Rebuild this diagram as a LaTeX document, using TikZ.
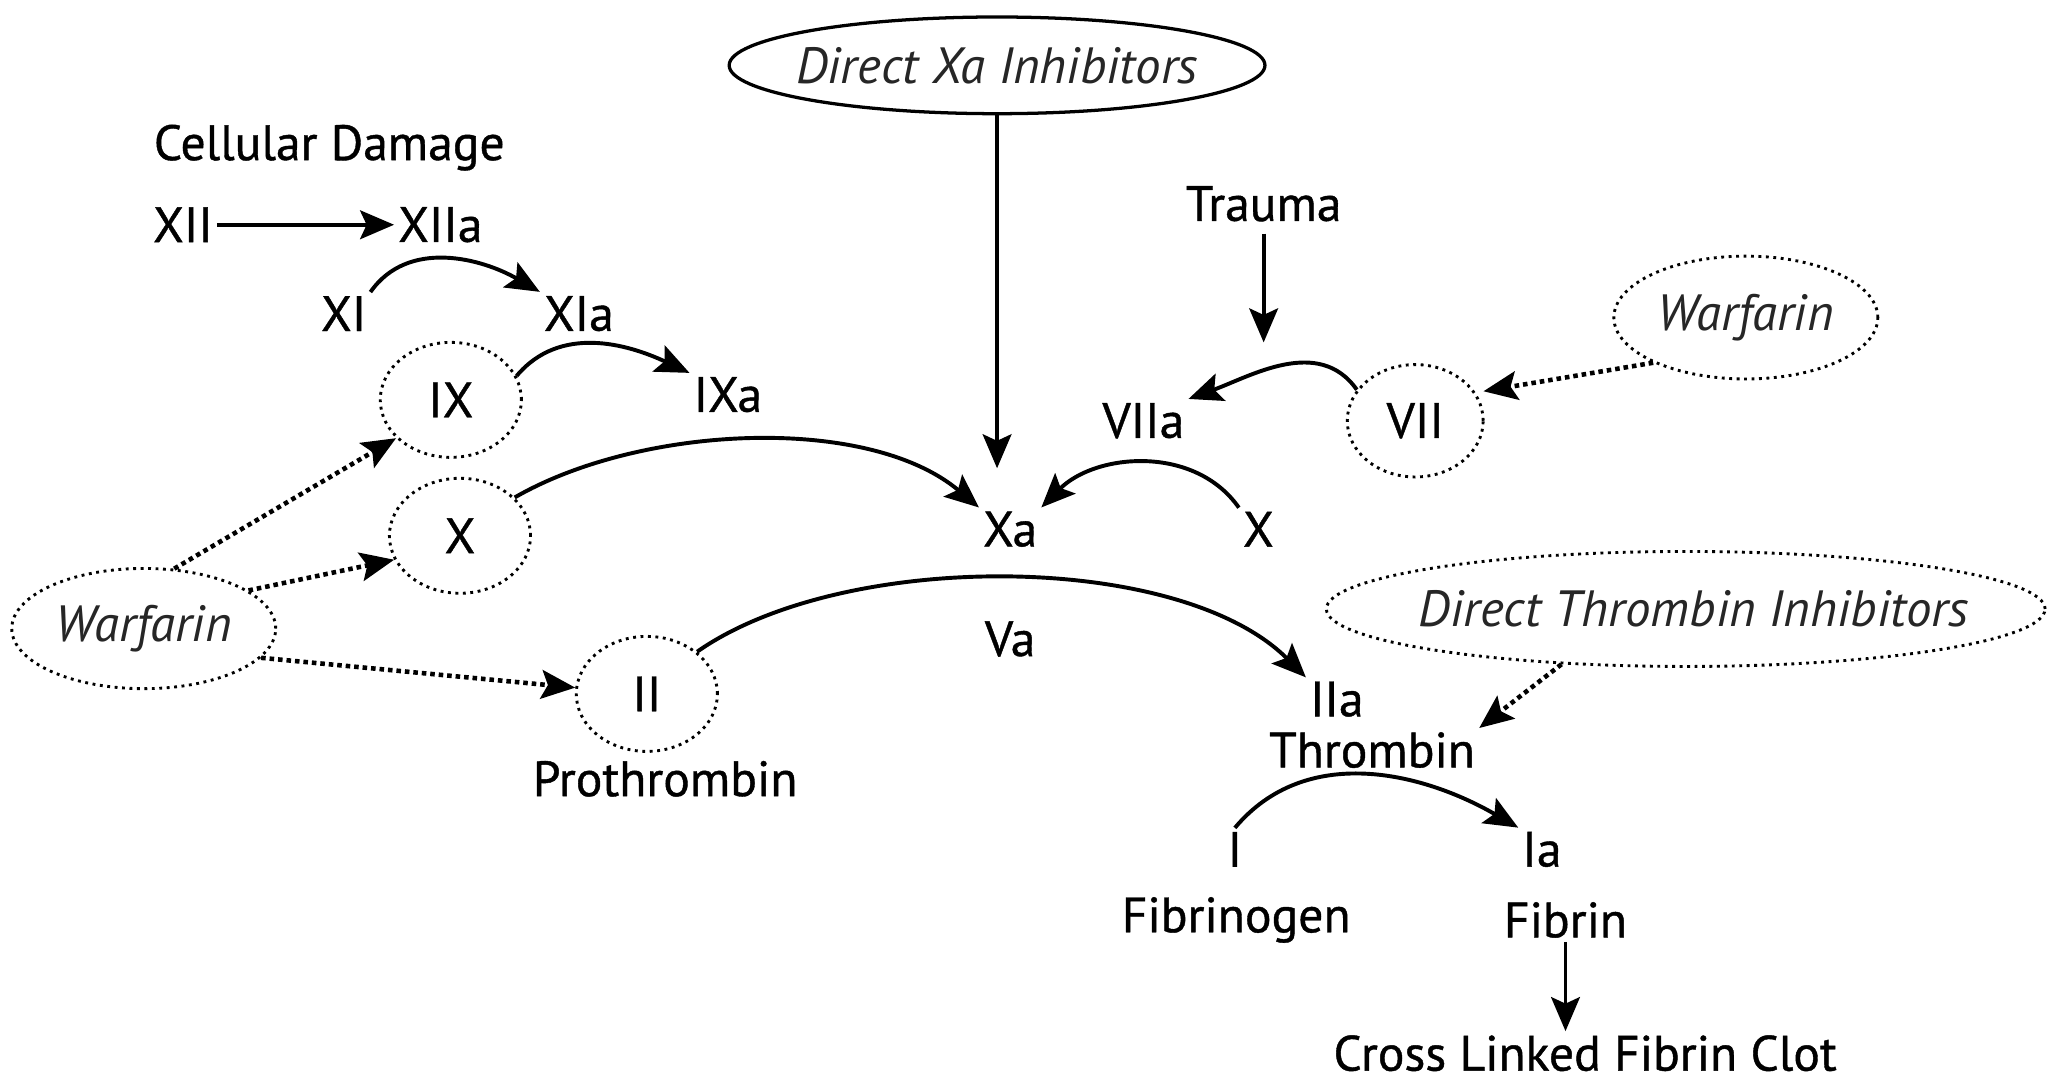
\documentclass[tikz,border=0pt]{standalone}
\usepackage{fontspec}
\setmainfont{PT Sans}
\newfontfamily\labfont{PT Sans}[FakeBold=0.8]
\usetikzlibrary{arrows.meta,shapes.geometric}
\begin{document}
\begin{tikzpicture}[x=1pt,y=1pt,
  lab/.style={font=\labfont\fontsize{38}{42}\selectfont, inner sep=3pt},
  ilab/.style={font=\fontsize{39}{44}\selectfont\itshape, text=black!85},
  arr/.style={line width=3pt, -{Stealth[length=26pt,width=22pt,inset=5pt]}},
  darr/.style={line width=3.5pt, dash pattern=on 3.5pt off 3pt, -{Stealth[length=26pt,width=22pt,inset=5pt]}},
  dotshape/.style={ellipse, draw, line width=2.2pt, dash pattern=on 2.2pt off 3.5pt},
  dcirc/.style={dotshape, minimum width=108pt, minimum height=88pt, lab},
]
\useasboundingbox (0,0) rectangle (1568,-827);

% ---- nodes ----
\node[ellipse, draw, line width=2.5pt, minimum width=410pt, minimum height=74pt, inner sep=0pt] (dxa) at (763,-50) {};
\node[ilab] (dxat) at (dxa.center) {Direct Xa Inhibitors};
\node[lab] (cd) at (252,-113) {Cellular Damage};
\node[lab] (xii) at (140,-172) {XII};
\node[lab] (xiia) at (337,-172) {XIIa};
\node[lab] (xi) at (263,-240) {XI};
\node[lab] (xia) at (443,-240) {XIa};
\node[dcirc] (ix) at (345,-306) {IX};
\node[lab] (ixa) at (557,-302) {IXa};
\node[dcirc] (xl) at (352,-410) {X};
\node[lab] (xa) at (773,-405) {Xa};
\node[lab] (xr) at (963,-405) {X};
\node[lab] (tr) at (967,-156) {Trauma};
\coordinate (trend) at (967,-262);
\node[lab] (viia) at (875,-322) {VIIa};
\node[dcirc, minimum width=104pt, minimum height=86pt] (vii) at (1083,-322) {VII};
\node[dotshape, minimum width=202pt, minimum height=94pt, ilab] (wr) at (1336,-243) {Warfarin};
\node[dotshape, minimum width=202pt, minimum height=92pt, ilab] (wl) at (110,-481) {Warfarin};
\node[dcirc] (ii) at (495,-531) {II};
\node[lab] (pro) at (509,-596) {Prothrombin};
\node[lab] (va) at (773,-489) {Va};
\node[lab] (iia) at (1023,-535) {IIa};
\node[lab] (thr) at (1050,-574) {Thrombin};
\node[dotshape, minimum width=550pt, minimum height=88pt, inner sep=0pt] (dti) at (1290,-466) {};
\node[ilab] (dtit) at (1296,-466) {Direct Thrombin Inhibitors};
\node[lab] (fi) at (945,-650) {I};
\node[lab] (ia) at (1180,-650) {Ia};
\node[lab] (fgn) at (946,-704) {Fibrinogen};
\node[lab] (fbn) at (1198,-704) {Fibrin};
\node[lab] (clot) at (1213,-806) {Cross Linked Fibrin Clot};

% ---- connectors ----
\draw[arr] (xii) -- (xiia);
\draw[arr] (xi.north east) to[out=55,in=150] (xia.north west);
\draw[arr] (ix.20) to[out=50,in=155] (ixa.north west);
\draw[arr] (xl.35) to[out=30,in=140,looseness=0.8] (xa.north west);
\draw[arr] (xr.north west) to[out=125,in=45] (xa.north east);
\draw[arr, shorten >=30pt] (dxa.south) -- (dxa.south |- xa.north);
\draw[arr, shorten <=6pt] (tr.south) -- (trend);
\draw[arr] (vii.152) to[out=125,in=20] (viia.north east);
\draw[darr, shorten >=6pt] (wr.206) -- (vii.25);
\draw[darr] (wl.63) -- (ix.215);
\draw[darr] (wl.20) -- (xl.200);
\draw[darr] (wl.-14) -- (ii.175);
\draw[arr] (ii.40) to[out=35,in=135,looseness=0.75] (iia.north west);
\draw[darr] (dti.204) -- (thr.north east);
\draw[arr] (fi.north) to[out=50,in=150] (ia.north west);
\draw[arr] (fbn.south) -- (fbn.south |- clot.north);
\end{tikzpicture}
\end{document}
